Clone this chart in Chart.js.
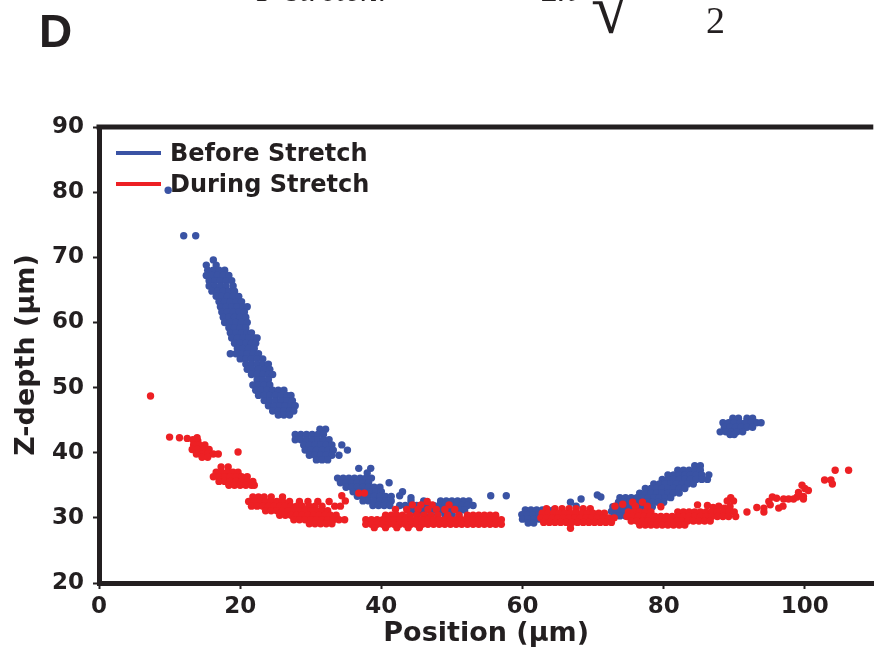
<!DOCTYPE html>
<html>
<head>
<meta charset="utf-8">
<script src="https://cdn.jsdelivr.net/npm/chart.js@4.4.1/dist/chart.umd.min.js"></script>
<style>
  body { margin: 0; background: #fff; }
  #wrap { width: 877px; height: 666px; position: relative; }
</style>
</head>
<body>
<div id="wrap"><canvas id="chart"></canvas></div>
<script>
// values: [position (µm), z-depth (µm)]
const seriesNames = ['Before Stretch', 'During Stretch'];
const xTicks = [0, 20, 40, 60, 80, 100];
const yTicks = [20, 30, 40, 50, 60, 70, 80, 90];

const beforeStretch = [
  [12.0,73.3],[13.7,73.3],[9.8,80.3],
  [16.2,69.6],[15.2,68.8],[16.6,68.8],
  [15.4,68.0],[16.2,68.0],[17.0,68.0],[17.8,68.0],
  [15.2,67.2],[16.0,67.2],[16.8,67.2],[17.6,67.2],[18.4,67.2],
  [15.6,66.4],[16.4,66.4],[17.2,66.4],[18.0,66.4],[18.8,66.4],
  [15.6,65.6],[16.4,65.6],[17.2,65.6],[18.0,65.6],[19.0,65.6],
  [16.0,64.8],[16.8,64.8],[17.6,64.8],[18.4,64.8],[19.2,64.8],
  [16.6,64.0],[17.4,64.0],[18.2,64.0],[19.0,64.0],[19.8,64.0],
  [17.0,63.2],[17.8,63.2],[18.6,63.2],[19.4,63.2],[20.2,63.2],
  [17.2,62.4],[18.0,62.4],[18.8,62.4],[19.6,62.4],[20.4,62.4],[21.0,62.4],
  [17.4,61.6],[18.2,61.6],[19.0,61.6],[19.8,61.6],[20.6,61.6],
  [17.6,60.8],[18.4,60.8],[19.2,60.8],[20.0,60.8],[20.8,60.8],
  [17.8,60.0],[18.6,60.0],[19.4,60.0],[20.2,60.0],[21.0,60.0],
  [18.4,59.2],[19.2,59.2],[20.0,59.2],[20.8,59.2],
  [18.6,58.4],[19.4,58.4],[20.2,58.4],[21.0,58.4],[21.6,58.4],
  [18.8,57.6],[19.6,57.6],[20.4,57.6],[21.2,57.6],[22.0,57.6],[22.4,57.6],
  [19.2,56.8],[20.0,56.8],[20.8,56.8],[21.6,56.8],[22.2,56.8],
  [19.6,56.0],[20.4,56.0],[21.2,56.0],[22.0,56.0],
  [18.6,55.2],[19.4,55.2],[20.2,55.2],[21.0,55.2],[21.8,55.2],[22.6,55.2],
  [20.0,54.4],[20.8,54.4],[21.6,54.4],[22.4,54.4],[23.2,54.4],
  [20.8,53.6],[21.6,53.6],[22.4,53.6],[23.2,53.6],[24.0,53.6],
  [21.0,52.8],[21.8,52.8],[22.6,52.8],[23.4,52.8],[24.2,52.8],
  [21.6,52.0],[22.4,52.0],[23.2,52.0],[24.0,52.0],[24.6,52.0],
  [22.4,51.2],[23.2,51.2],[24.0,51.2],
  [21.8,50.4],[22.6,50.4],[23.4,50.4],[24.2,50.4],
  [22.2,49.6],[23.0,49.6],[23.8,49.6],[24.6,49.6],[25.4,49.6],[26.2,49.6],
  [22.6,48.8],[23.4,48.8],[24.2,48.8],[25.0,48.8],[25.8,48.8],[26.6,48.8],[27.2,48.8],
  [23.4,48.0],[24.2,48.0],[25.0,48.0],[25.8,48.0],[26.6,48.0],[27.4,48.0],
  [24.0,47.2],[24.8,47.2],[25.6,47.2],[26.4,47.2],[27.2,47.2],[27.8,47.2],
  [24.6,46.4],[25.4,46.4],[26.2,46.4],[27.0,46.4],[27.6,46.4],
  [25.4,45.8],[26.2,45.8],[27.0,45.8],
  [31.3,43.6],[32.1,43.6],
  [27.8,42.8],[28.6,42.8],[29.4,42.8],[30.2,42.8],[31.0,42.8],[31.8,42.8],
  [27.8,42.0],[28.6,42.0],[29.4,42.0],[30.2,42.0],[31.0,42.0],[31.8,42.0],[32.6,42.0],
  [29.0,41.2],[29.8,41.2],[30.6,41.2],[31.4,41.2],[32.2,41.2],[33.0,41.2],[34.4,41.2],
  [29.2,40.4],[30.0,40.4],[30.8,40.4],[31.6,40.4],[32.4,40.4],[33.2,40.4],[35.2,40.4],
  [29.8,39.6],[30.6,39.6],[31.4,39.6],[32.2,39.6],[33.0,39.6],[34.0,39.6],
  [30.8,38.9],[31.6,38.9],[32.4,38.9],
  [36.8,37.6],[38.5,37.6],[38.0,36.9],
  [33.8,36.1],[34.6,36.1],[35.4,36.1],[36.2,36.1],[37.0,36.1],[37.8,36.1],[38.6,36.1],
  [34.2,35.4],[35.0,35.4],[35.8,35.4],[36.6,35.4],[37.4,35.4],[38.2,35.4],[41.1,35.4],
  [35.0,34.7],[35.8,34.7],[36.6,34.7],[37.4,34.7],[38.2,34.7],[39.0,34.7],[39.8,34.7],
  [36.0,34.0],[36.8,34.0],[37.6,34.0],[38.4,34.0],[39.2,34.0],[40.0,34.0],[43.0,34.0],
  [36.6,33.3],[37.4,33.3],[38.2,33.3],[39.0,33.3],[39.8,33.3],[40.6,33.3],[41.4,33.3],[42.6,33.4],[44.2,33.1],
  [37.4,32.6],[38.2,32.6],[39.0,32.6],[39.8,32.6],[40.6,32.6],[41.4,32.6],
  [38.8,31.9],[39.6,31.9],[40.4,31.9],[41.2,31.9],
  [55.5,33.4],[57.7,33.4],
  [44.2,32.6],[46.0,32.6],[48.4,32.6],[49.2,32.6],[50.0,32.6],[50.8,32.6],[51.6,32.6],[52.4,32.6],
  [42.6,31.9],[43.4,31.9],[44.2,31.9],[45.0,31.9],[45.8,31.9],[46.6,31.9],[47.4,31.9],
  [48.2,31.9],[49.0,31.9],[49.8,31.9],[50.6,31.9],[51.4,31.9],[52.2,31.9],[53.0,31.9],
  [43.8,31.2],[44.6,31.2],[45.4,31.2],[46.2,31.2],[47.0,31.2],[47.8,31.2],
  [48.6,31.2],[49.4,31.2],[50.2,31.2],[51.0,31.2],[51.8,31.2],
  [45.0,30.5],[46.0,30.5],[47.0,30.5],[48.0,30.5],[49.0,30.5],[50.0,30.5],[51.0,30.5],
  [46.5,29.8],[48.0,29.8],[49.5,29.8],[51.0,29.8],
  [60.4,31.2],[61.2,31.2],[62.0,31.2],[62.8,31.2],[63.6,31.2],[64.4,31.2],
  [59.9,30.5],[60.7,30.5],[61.5,30.5],[62.3,30.5],[63.1,30.5],[63.9,30.5],[64.7,30.5],
  [60.0,29.8],[60.8,29.8],[61.6,29.8],[62.4,29.8],[63.2,29.8],
  [60.8,29.2],[61.6,29.2],
  [66.8,32.4],[67.6,31.8],[68.3,32.9],[70.6,33.5],[71.1,33.2],
  [84.4,38.0],[85.2,38.0],
  [82.0,37.3],[82.8,37.3],[83.6,37.3],[84.4,37.3],[85.2,37.3],
  [80.6,36.6],[81.4,36.6],[82.2,36.6],[83.0,36.6],[83.8,36.6],[84.6,36.6],[85.4,36.6],[86.4,36.6],
  [79.8,35.9],[80.6,35.9],[81.4,35.9],[82.2,35.9],[83.0,35.9],[83.8,35.9],[84.6,35.9],[85.4,35.9],[86.2,35.9],
  [78.6,35.2],[79.4,35.2],[80.2,35.2],[81.0,35.2],[81.8,35.2],[82.6,35.2],[83.4,35.2],[84.2,35.2],
  [77.4,34.5],[78.2,34.5],[79.0,34.5],[79.8,34.5],[80.6,34.5],[81.4,34.5],[82.2,34.5],[83.0,34.5],
  [76.6,33.8],[77.4,33.8],[78.2,33.8],[79.0,33.8],[79.8,33.8],[80.6,33.8],[81.4,33.8],[82.2,33.8],
  [73.8,33.1],[74.6,33.1],[75.4,33.1],[76.2,33.1],[77.0,33.1],[77.8,33.1],[78.6,33.1],[79.4,33.1],[80.2,33.1],[81.0,33.1],
  [73.6,32.4],[74.4,32.4],[75.2,32.4],[76.0,32.4],[76.8,32.4],[77.6,32.4],[78.4,32.4],[79.2,32.4],[80.0,32.4],
  [72.8,31.7],[73.6,31.7],[74.4,31.7],[75.2,31.7],[76.0,31.7],[76.8,31.7],[77.6,31.7],[78.4,31.7],
  [72.6,31.0],[73.4,31.0],[74.2,31.0],[75.0,31.0],[75.8,31.0],[76.6,31.0],
  [73.0,30.3],[73.8,30.3],[74.6,30.3],[75.4,30.3],
  [89.8,45.3],[90.6,45.3],[91.8,45.3],[92.6,45.3],
  [88.4,44.6],[89.2,44.6],[90.0,44.6],[90.8,44.6],[91.6,44.6],[92.4,44.6],[93.2,44.6],[93.8,44.6],
  [88.6,43.9],[89.4,43.9],[90.2,43.9],[91.0,43.9],[91.8,43.9],[92.6,43.9],
  [88.0,43.2],[88.8,43.2],[89.6,43.2],[90.4,43.2],[91.2,43.2],
  [89.4,42.8],[90.0,42.8]
];

const duringStretch = [
  [7.3,48.7],
  [10.0,42.4],[11.4,42.3],[12.5,42.2],[13.3,42.0],[14.0,41.8],[13.9,42.3],
  [13.4,41.2],[14.2,41.2],[15.0,41.2],
  [13.2,40.5],[14.0,40.5],[14.8,40.5],[15.6,40.5],
  [13.8,39.8],[14.6,39.8],[15.4,39.8],[16.2,39.8],[16.9,39.8],
  [14.6,39.3],[15.4,39.3],[19.7,40.1],
  [17.3,37.8],[18.3,37.8],
  [16.6,37.0],[17.4,37.0],[18.2,37.0],[19.0,37.0],[19.7,37.0],
  [16.2,36.3],[17.0,36.3],[17.8,36.3],[18.6,36.3],[19.4,36.3],[20.2,36.3],[21.0,36.3],
  [17.0,35.6],[17.8,35.6],[18.6,35.6],[19.4,35.6],[20.2,35.6],[21.0,35.6],[21.8,35.6],
  [18.4,35.0],[19.2,35.0],[20.0,35.0],[20.8,35.0],[21.6,35.0],[22.0,35.0],
  [21.8,33.2],[22.6,33.2],[23.4,33.2],[24.4,33.2],[26.0,33.2],
  [21.2,32.5],[22.0,32.5],[22.8,32.5],[23.6,32.5],[24.4,32.5],[25.2,32.5],[26.0,32.5],
  [27.0,32.5],[28.4,32.5],[29.6,32.5],[31.0,32.5],[32.6,32.5],
  [21.6,31.8],[22.4,31.8],[23.2,31.8],[24.0,31.8],[24.8,31.8],[25.6,31.8],[26.4,31.8],[27.2,31.8],
  [28.0,31.8],[28.8,31.8],[29.8,31.8],[30.6,31.8],[31.6,31.8],[33.4,31.8],[34.2,31.8],
  [23.6,31.1],[24.4,31.1],[25.2,31.1],[26.0,31.1],[26.8,31.1],[27.6,31.1],
  [28.4,31.1],[29.2,31.1],[30.0,31.1],[30.8,31.1],[31.6,31.1],[32.4,31.1],
  [25.6,30.4],[26.4,30.4],[27.2,30.4],[28.0,30.4],[28.8,30.4],[29.6,30.4],
  [30.4,30.4],[31.2,30.4],[32.0,30.4],[32.8,30.4],[33.6,30.4],
  [27.6,29.7],[28.4,29.7],[29.2,29.7],[30.0,29.7],[30.8,29.7],
  [31.6,29.7],[32.4,29.7],[33.2,29.7],[34.0,29.7],[34.8,29.7],
  [29.8,29.1],[30.6,29.1],[31.4,29.1],[32.2,29.1],[33.0,29.1],
  [34.4,33.4],[34.9,32.6],[36.8,33.8],[37.6,33.8],
  [46.5,32.5],
  [44.4,32.0],[45.6,32.0],[47.2,32.0],[49.6,32.0],
  [42.0,31.3],[43.6,31.3],[45.2,31.3],[46.6,31.3],[47.8,31.3],[49.0,31.3],[50.4,31.3],
  [40.6,30.4],[41.4,30.4],[42.2,30.4],[43.0,30.4],[44.0,30.4],[45.0,30.4],[46.0,30.4],[47.0,30.4],
  [48.0,30.4],[49.4,30.4],[51.0,30.4],[52.2,30.4],[53.0,30.4],[53.8,30.4],[54.6,30.4],[55.4,30.4],[56.2,30.4],
  [37.8,29.7],[38.6,29.7],[39.4,29.7],[40.2,29.7],[41.0,29.7],[41.8,29.7],[42.6,29.7],[43.4,29.7],
  [44.2,29.7],[45.0,29.7],[45.8,29.7],[46.6,29.7],[47.4,29.7],[48.2,29.7],[49.0,29.7],[49.8,29.7],
  [50.6,29.7],[51.4,29.7],[52.2,29.7],[53.0,29.7],[53.8,29.7],[54.6,29.7],[55.4,29.7],[56.2,29.7],[57.0,29.7],
  [37.8,29.0],[38.6,29.0],[39.4,29.0],[40.2,29.0],[41.0,29.0],[41.8,29.0],[42.6,29.0],[43.4,29.0],
  [44.2,29.0],[45.0,29.0],[45.8,29.0],[46.6,29.0],[47.4,29.0],[48.2,29.0],[49.0,29.0],[49.8,29.0],
  [50.6,29.0],[51.4,29.0],[52.2,29.0],[53.0,29.0],[53.8,29.0],[54.6,29.0],[55.4,29.0],[56.2,29.0],[57.0,29.0],
  [39.0,28.5],[40.6,28.5],[42.2,28.5],[43.8,28.5],[45.4,28.5],
  [63.4,31.4],[64.6,31.4],[65.6,31.4],[66.6,31.4],[67.6,31.4],[68.6,31.4],[69.6,31.4],
  [62.8,30.7],[63.6,30.7],[64.4,30.7],[65.2,30.7],[66.0,30.7],[66.8,30.7],
  [67.6,30.7],[68.4,30.7],[69.2,30.7],[70.0,30.7],[70.8,30.7],[71.6,30.7],
  [62.6,30.0],[63.4,30.0],[64.2,30.0],[65.0,30.0],[65.8,30.0],[66.6,30.0],[67.4,30.0],
  [68.2,30.0],[69.0,30.0],[69.8,30.0],[70.6,30.0],[71.4,30.0],[72.2,30.0],[73.0,30.0],
  [63.0,29.3],[63.8,29.3],[64.6,29.3],[65.4,29.3],[66.2,29.3],[67.0,29.3],[67.8,29.3],
  [68.6,29.3],[69.4,29.3],[70.2,29.3],[71.0,29.3],[71.8,29.3],[72.6,29.3],
  [66.8,28.4],
  [74.2,32.1],[75.6,32.4],[77.0,32.4],[84.8,32.0],[89.0,32.6],[89.5,33.1],[89.9,32.6],
  [73.1,31.8],[76.0,31.8],[77.7,31.8],[79.6,31.7],[86.2,31.9],[87.0,31.6],[87.8,31.8],[88.6,31.5],[89.4,31.7],
  [75.0,30.9],[75.8,30.9],[76.6,30.9],[77.4,30.9],[78.2,30.9],[82.0,30.9],[82.8,30.9],[83.6,30.9],
  [84.4,30.9],[85.2,30.9],[86.0,30.9],[86.8,30.9],[87.6,30.9],[88.4,30.9],[89.2,30.9],[90.0,30.9],
  [74.8,30.2],[75.6,30.2],[76.4,30.2],[77.2,30.2],[78.0,30.2],[78.8,30.2],[79.6,30.2],[80.4,30.2],
  [81.2,30.2],[82.0,30.2],[82.8,30.2],[83.6,30.2],[84.4,30.2],[85.2,30.2],[86.0,30.2],[86.8,30.2],
  [87.6,30.2],[88.4,30.2],[89.2,30.2],[90.2,30.2],
  [75.4,29.5],[76.2,29.5],[77.0,29.5],[77.8,29.5],[78.6,29.5],[79.4,29.5],[80.2,29.5],[81.0,29.5],
  [81.8,29.5],[82.6,29.5],[83.4,29.5],[84.2,29.5],[85.0,29.5],[85.8,29.5],[86.6,29.5],
  [76.6,28.9],[77.4,28.9],[78.2,28.9],[79.0,28.9],[79.8,28.9],[80.6,28.9],[81.4,28.9],[82.2,28.9],[83.0,28.9],
  [91.8,30.9],[93.2,31.6],[94.2,31.5],[94.2,30.9],[94.9,32.5],[95.4,33.2],[96.0,33.0],
  [95.1,32.0],[96.3,31.5],[96.9,31.8],[97.0,32.9],[97.7,32.9],[98.4,32.9],[98.9,33.2],
  [99.1,33.9],[99.8,33.3],[99.8,32.9],[99.6,35.0],[100.0,34.5],[100.5,34.2],
  [102.8,35.8],[103.7,35.8],[103.9,35.2],[104.3,37.3],[106.2,37.3]
];

const ink = '#231f20';
const blue = '#3a53a4';
const red = '#ed2024';
const sans = "'DejaVu Sans', 'Liberation Sans', Arial, sans-serif";
const serif = "'Liberation Serif', 'DejaVu Serif', serif";

// legend, top frame edge, panel letter and the clipped formula above
const decor = {
  id: 'decor',
  afterDraw(chart) {
    const { ctx, chartArea } = chart;
    ctx.save();
    ctx.strokeStyle = ink;
    ctx.lineWidth = 5;
    ctx.beginPath();
    ctx.moveTo(chartArea.left - 2.5, chartArea.top);
    ctx.lineTo(chartArea.right, chartArea.top);
    ctx.stroke();

    const colors = [blue, red];
    const rows = [153, 184];
    ctx.font = 'bold 24px ' + sans;
    ctx.textBaseline = 'alphabetic';
    ctx.fillStyle = ink;
    seriesNames.forEach((name, i) => {
      ctx.strokeStyle = colors[i];
      ctx.lineWidth = 4;
      ctx.beginPath();
      ctx.moveTo(116, rows[i]);
      ctx.lineTo(161, rows[i]);
      ctx.stroke();
      ctx.fillText(name, 170, rows[i] + 8);
    });

    ctx.font = 'bold 46px ' + "'Liberation Sans', Arial, sans-serif";
    ctx.fillText('D', 39, 47);

    ctx.font = 'italic 34px ' + serif;
    ctx.fillText('P stretch:', 257, 1);
    ctx.fillText('2π', 542, 1);
    ctx.font = '72px ' + serif;
    ctx.fillText('√', 591, 33);
    ctx.font = '38px ' + serif;
    ctx.fillText('2', 706, 33);
    ctx.restore();
  }
};

const pts = arr => arr.map(p => ({ x: p[0], y: p[1] }));

new Chart(document.getElementById('chart'), {
  type: 'scatter',
  data: {
    datasets: [
      { label: seriesNames[0], data: pts(beforeStretch), backgroundColor: blue, order: 2 },
      { label: seriesNames[1], data: pts(duringStretch), backgroundColor: red, order: 1 }
    ]
  },
  options: {
    responsive: true,
    maintainAspectRatio: false,
    animation: false,
    layout: { padding: { top: 127, right: 0, bottom: 0, left: 0 } },
    elements: { point: { radius: 3.7, borderWidth: 0, hoverRadius: 3.7 } },
    plugins: { legend: { display: false }, tooltip: { enabled: false } },
    scales: {
      x: {
        type: 'linear',
        min: 0,
        max: 109.7,
        afterBuildTicks: axis => { axis.ticks = xTicks.map(v => ({ value: v })); },
        afterFit: axis => { axis.height = 83; },
        ticks: { color: ink, font: { family: sans, size: 23, weight: 'bold' }, padding: 4, maxRotation: 0 },
        grid: { drawOnChartArea: false, drawTicks: true, tickLength: 6, tickWidth: 2, tickColor: ink },
        border: { color: ink, width: 5 },
        title: {
          display: true, text: 'Position (μm)', color: ink,
          font: { family: sans, size: 27, weight: 'bold' },
          padding: { top: 0, bottom: 16 }
        }
      },
      y: {
        type: 'linear',
        min: 20,
        max: 90,
        afterBuildTicks: axis => { axis.ticks = yTicks.map(v => ({ value: v })); },
        afterFit: axis => { axis.width = 99; },
        ticks: { color: ink, font: { family: sans, size: 23, weight: 'bold' }, padding: 9 },
        grid: { drawOnChartArea: false, drawTicks: true, tickLength: 6, tickWidth: 2, tickColor: ink },
        border: { color: ink, width: 5 },
        title: {
          display: true, text: 'Z-depth (μm)', color: ink,
          font: { family: sans, size: 27, weight: 'bold' },
          padding: { top: 11, bottom: 0 }
        }
      }
    }
  },
  plugins: [decor]
});
</script>
</body>
</html>
